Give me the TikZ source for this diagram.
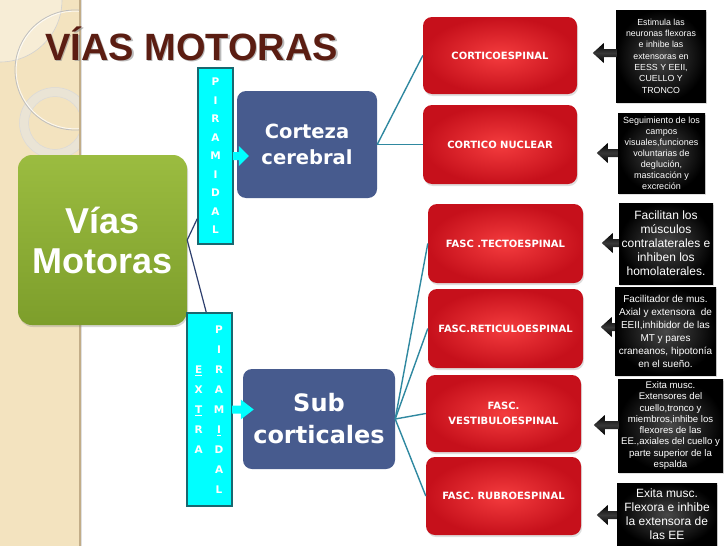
\documentclass[tikz,border=0pt]{standalone}
\usepackage{fontspec}
\setmainfont{Liberation Sans}
\newfontfamily\dvsans{DejaVu Sans}
\usetikzlibrary{calc,shadows}
\definecolor{titlebrown}{HTML}{5B1D12}
\definecolor{beige}{HTML}{F3E3BF}
\definecolor{beigelight}{HTML}{F7EDD6}
\definecolor{beigeedge}{HTML}{C2AD88}
\definecolor{greenlight}{HTML}{9BBC40}
\definecolor{greendark}{HTML}{7D9E2B}
\definecolor{bluebox}{HTML}{475B8E}
\definecolor{redin}{HTML}{F43C3E}
\definecolor{redout}{HTML}{C6101B}
\definecolor{cyanbar}{HTML}{00FFFF}
\definecolor{tealedge}{HTML}{1A6870}
\definecolor{tealline}{HTML}{2F88A0}
\definecolor{navyline}{HTML}{2E3F6E}
\newcommand\leftblockarrow[2]{%
  \path[blkarrow] (#1) ++(0,-4) -- ++(-#2,0) -- ++(0,-6) -- ++(-11,10) -- ++(11,10) -- ++(0,-6) -- ++(#2,0) -- cycle;}
\begin{document}
\begin{tikzpicture}[x=1pt,y=-1pt,
  redbox/.style={rounded corners=9pt, inner color=redin, outer color=redout,
    minimum width=155pt, minimum height=78pt, inner sep=0pt, text=white,
    font=\dvsans\bfseries\fontsize{10}{15}\selectfont, align=center,
    drop shadow={opacity=0.25,shadow xshift=1pt,shadow yshift=-2pt}},
  blackbox/.style={inner color=black!72, outer color=black, text=white,
    align=center, inner sep=0pt,
    drop shadow={opacity=0.25,shadow xshift=1pt,shadow yshift=-2pt}},
  bluebox/.style={rounded corners=9pt, fill=bluebox, text=white, align=center, inner sep=0pt},
  cyanbox/.style={fill=cyanbar, draw=tealedge, line width=1.5pt, text=white, inner sep=0pt,
    font=\dvsans\bfseries\fontsize{10.5}{18.5}\selectfont, align=center},
  tealconn/.style={draw=tealline, line width=1.4pt},
  navyconn/.style={draw=navyline, line width=1.2pt},
  blkarrow/.style={top color=black, bottom color=black, middle color=black!78},
  cyanarrow/.style={fill=cyanbar}
]
\useasboundingbox (0,0) rectangle (728,546);
\fill[white] (0,0) rectangle (728,546);
% left decorative strip
\fill[beige] (0,0) rectangle (80,546);
\begin{scope}
  \clip (0,0) rectangle (80,546);
  \fill[beigelight] (0,0) circle (62pt);
  \draw[black!18, line width=0.6pt] (0,0) circle (62pt);
  \draw[white!80!gray, line width=9pt, opacity=0.6] (55,123) circle (31pt);
  \draw[black!15, line width=0.5pt] (55,123) circle (35.5pt);
  \draw[black!15, line width=0.5pt] (55,123) circle (26.5pt);
  \draw[black!25, line width=0.8pt] (75,70) circle (60pt);
  \draw[white, line width=0.8pt, opacity=0.8] (75,70) circle (58.8pt);
\end{scope}
\fill[black!12] (80,0) rectangle (82,546);
\draw[beigeedge, line width=1.2pt] (80,0) -- (80,546);

% title
\node[anchor=base west, inner sep=0pt, text=black!45, opacity=0.6,
  font=\bfseries\fontsize{38}{40}\selectfont] (titleshadow) at (46.5,61.5) {VÍAS MOTORAS};
\node[anchor=base west, inner sep=0pt, text=titlebrown,
  font=\bfseries\fontsize{38}{40}\selectfont] (title) at (45,60) {VÍAS MOTORAS};

% main box
\node[rounded corners=14pt, top color=greenlight, bottom color=greendark,
  minimum width=169pt, minimum height=170pt, inner sep=0pt, text=white, align=center,
  font=\bfseries\fontsize{36}{40}\selectfont,
  drop shadow={opacity=0.3,shadow xshift=1pt,shadow yshift=-2pt}] (g) at (102.5,240) {Vías\\Motoras};

% bars
\node[cyanbox, minimum width=35pt, minimum height=176pt] (pbar) at (215.5,156)
  {P\\I\\R\\A\\M\\I\\D\\A\\L};
\node[cyanbox, minimum width=45pt, minimum height=193pt] (ebar) at (209.5,409.5)
  {\fontsize{10.5}{20}\selectfont\begin{tabular}{@{}c@{\hspace{11pt}}c@{}}
   & P\\ & I\\ \underline{E} & R\\ X & A\\ \underline{T} & M\\ R & \underline{I}\\ A & D\\ & A\\ & L
   \end{tabular}};

% blue boxes
\node[bluebox, minimum width=140pt, minimum height=107pt,
  font=\dvsans\bfseries\fontsize{19.5}{26}\selectfont] (cc) at (307,144.5) {Corteza\\cerebral};
\node[bluebox, minimum width=152pt, minimum height=100pt,
  font=\dvsans\bfseries\fontsize{24}{32}\selectfont] (sc) at (319,419) {Sub\\corticales};

% red boxes
\node[redbox, minimum width=154pt, minimum height=77pt] (r1) at (500,55.5) {CORTICOESPINAL};
\node[redbox, minimum width=154pt, minimum height=79pt] (r2) at (500,144.5) {CORTICO NUCLEAR};
\node[redbox, minimum height=79pt] (r3) at (505.5,243.5) {FASC .TECTOESPINAL};
\node[redbox, minimum height=79pt] (r4) at (505.5,328.5) {FASC.RETICULOESPINAL};
\node[redbox, minimum height=77pt] (r5) at (503.5,413.5) {FASC.\\VESTIBULOESPINAL};
\node[redbox, minimum height=78pt] (r6) at (503.5,496) {FASC. RUBROESPINAL};

% black boxes
\node[blackbox, minimum width=90pt, minimum height=92pt,
  font=\fontsize{8.8}{11.3}\selectfont] (d1) at (661,56)
  {Estimula las\\neuronas flexoras\\e inhibe las\\extensoras en\\EESS Y EEII,\\CUELLO Y\\TRONCO};
\node[blackbox, minimum width=87pt, minimum height=80pt,
  font=\fontsize{9}{11}\selectfont] (d2) at (661.5,153)
  {Seguimiento de los\\campos\\visuales,funciones\\voluntarias de\\deglución,\\masticación y\\excreción};
\node[blackbox, minimum width=94pt, minimum height=81pt,
  font=\fontsize{12}{14}\selectfont] (d3) at (666,243.5)
  {Facilitan los\\músculos\\contralaterales e\\inhiben los\\homolaterales.};
\node[blackbox, minimum width=101pt, minimum height=88pt,
  font=\fontsize{10}{13}\selectfont] (d4) at (665.5,331)
  {Facilitador de mus.\\Axial y extensora\ \ de\\EEII,inhibidor de las\\MT y pares\\craneanos, hipotonía\\en el sueño.};
\node[blackbox, minimum width=105pt, minimum height=93pt,
  font=\fontsize{9.6}{11.3}\selectfont] (d5) at (670.5,425.5)
  {Exita musc.\\Extensores del\\cuello,tronco y\\miembros,inhibe los\\flexores de las\\EE.,axiales del cuello y\\parte superior de la\\espalda};
\node[blackbox, minimum width=100pt, minimum height=63pt,
  font=\fontsize{12}{14}\selectfont] (d6) at (667,514.5)
  {Exita musc.\\Flexora e inhibe\\la extensora de\\las EE};

% connectors
\draw[navyconn] (g.east) -- ($(pbar.south west)+(0,-26)$);
\draw[navyconn] (g.east) -- ($(ebar.north west)+(20,0)$);
\draw[tealconn] (cc.east) -- (r1.west);
\draw[tealconn] (cc.east) -- (r2.west);
\draw[tealconn] (sc.east) -- (r3.west);
\draw[tealconn] (sc.east) -- (r4.west);
\draw[tealconn] (sc.east) -- (r5.west);
\draw[tealconn] (sc.east) -- (r6.west);

% cyan arrows
\fill[cyanarrow] (pbar.east) ++(-1,-4) -- ++(6,0) -- ++(0,-6) -- ++(10,10) -- ++(-10,10) -- ++(0,-6) -- ++(-6,0) -- cycle;
\fill[cyanarrow] (ebar.east) ++(-1,-4) -- ++(9,0) -- ++(0,-6) -- ++(13,10) -- ++(-13,10) -- ++(0,-6) -- ++(-9,0) -- cycle;

% black arrows
\coordinate (a1) at ($(d1.west)+(1,-3)$);
\coordinate (a2) at ($(d2.west)+(0,0)$);
\coordinate (a3) at ($(d3.west)+(0,-0.5)$);
\coordinate (a4) at ($(d4.west)+(0,-4)$);
\coordinate (a5) at ($(d5.west)+(1,-0.5)$);
\coordinate (a6) at ($(d6.west)+(0,0.5)$);
\leftblockarrow{a1}{13}
\leftblockarrow{a2}{10}
\leftblockarrow{a3}{6}
\leftblockarrow{a4}{3}
\leftblockarrow{a5}{14}
\leftblockarrow{a6}{9}
\end{tikzpicture}
\end{document}
